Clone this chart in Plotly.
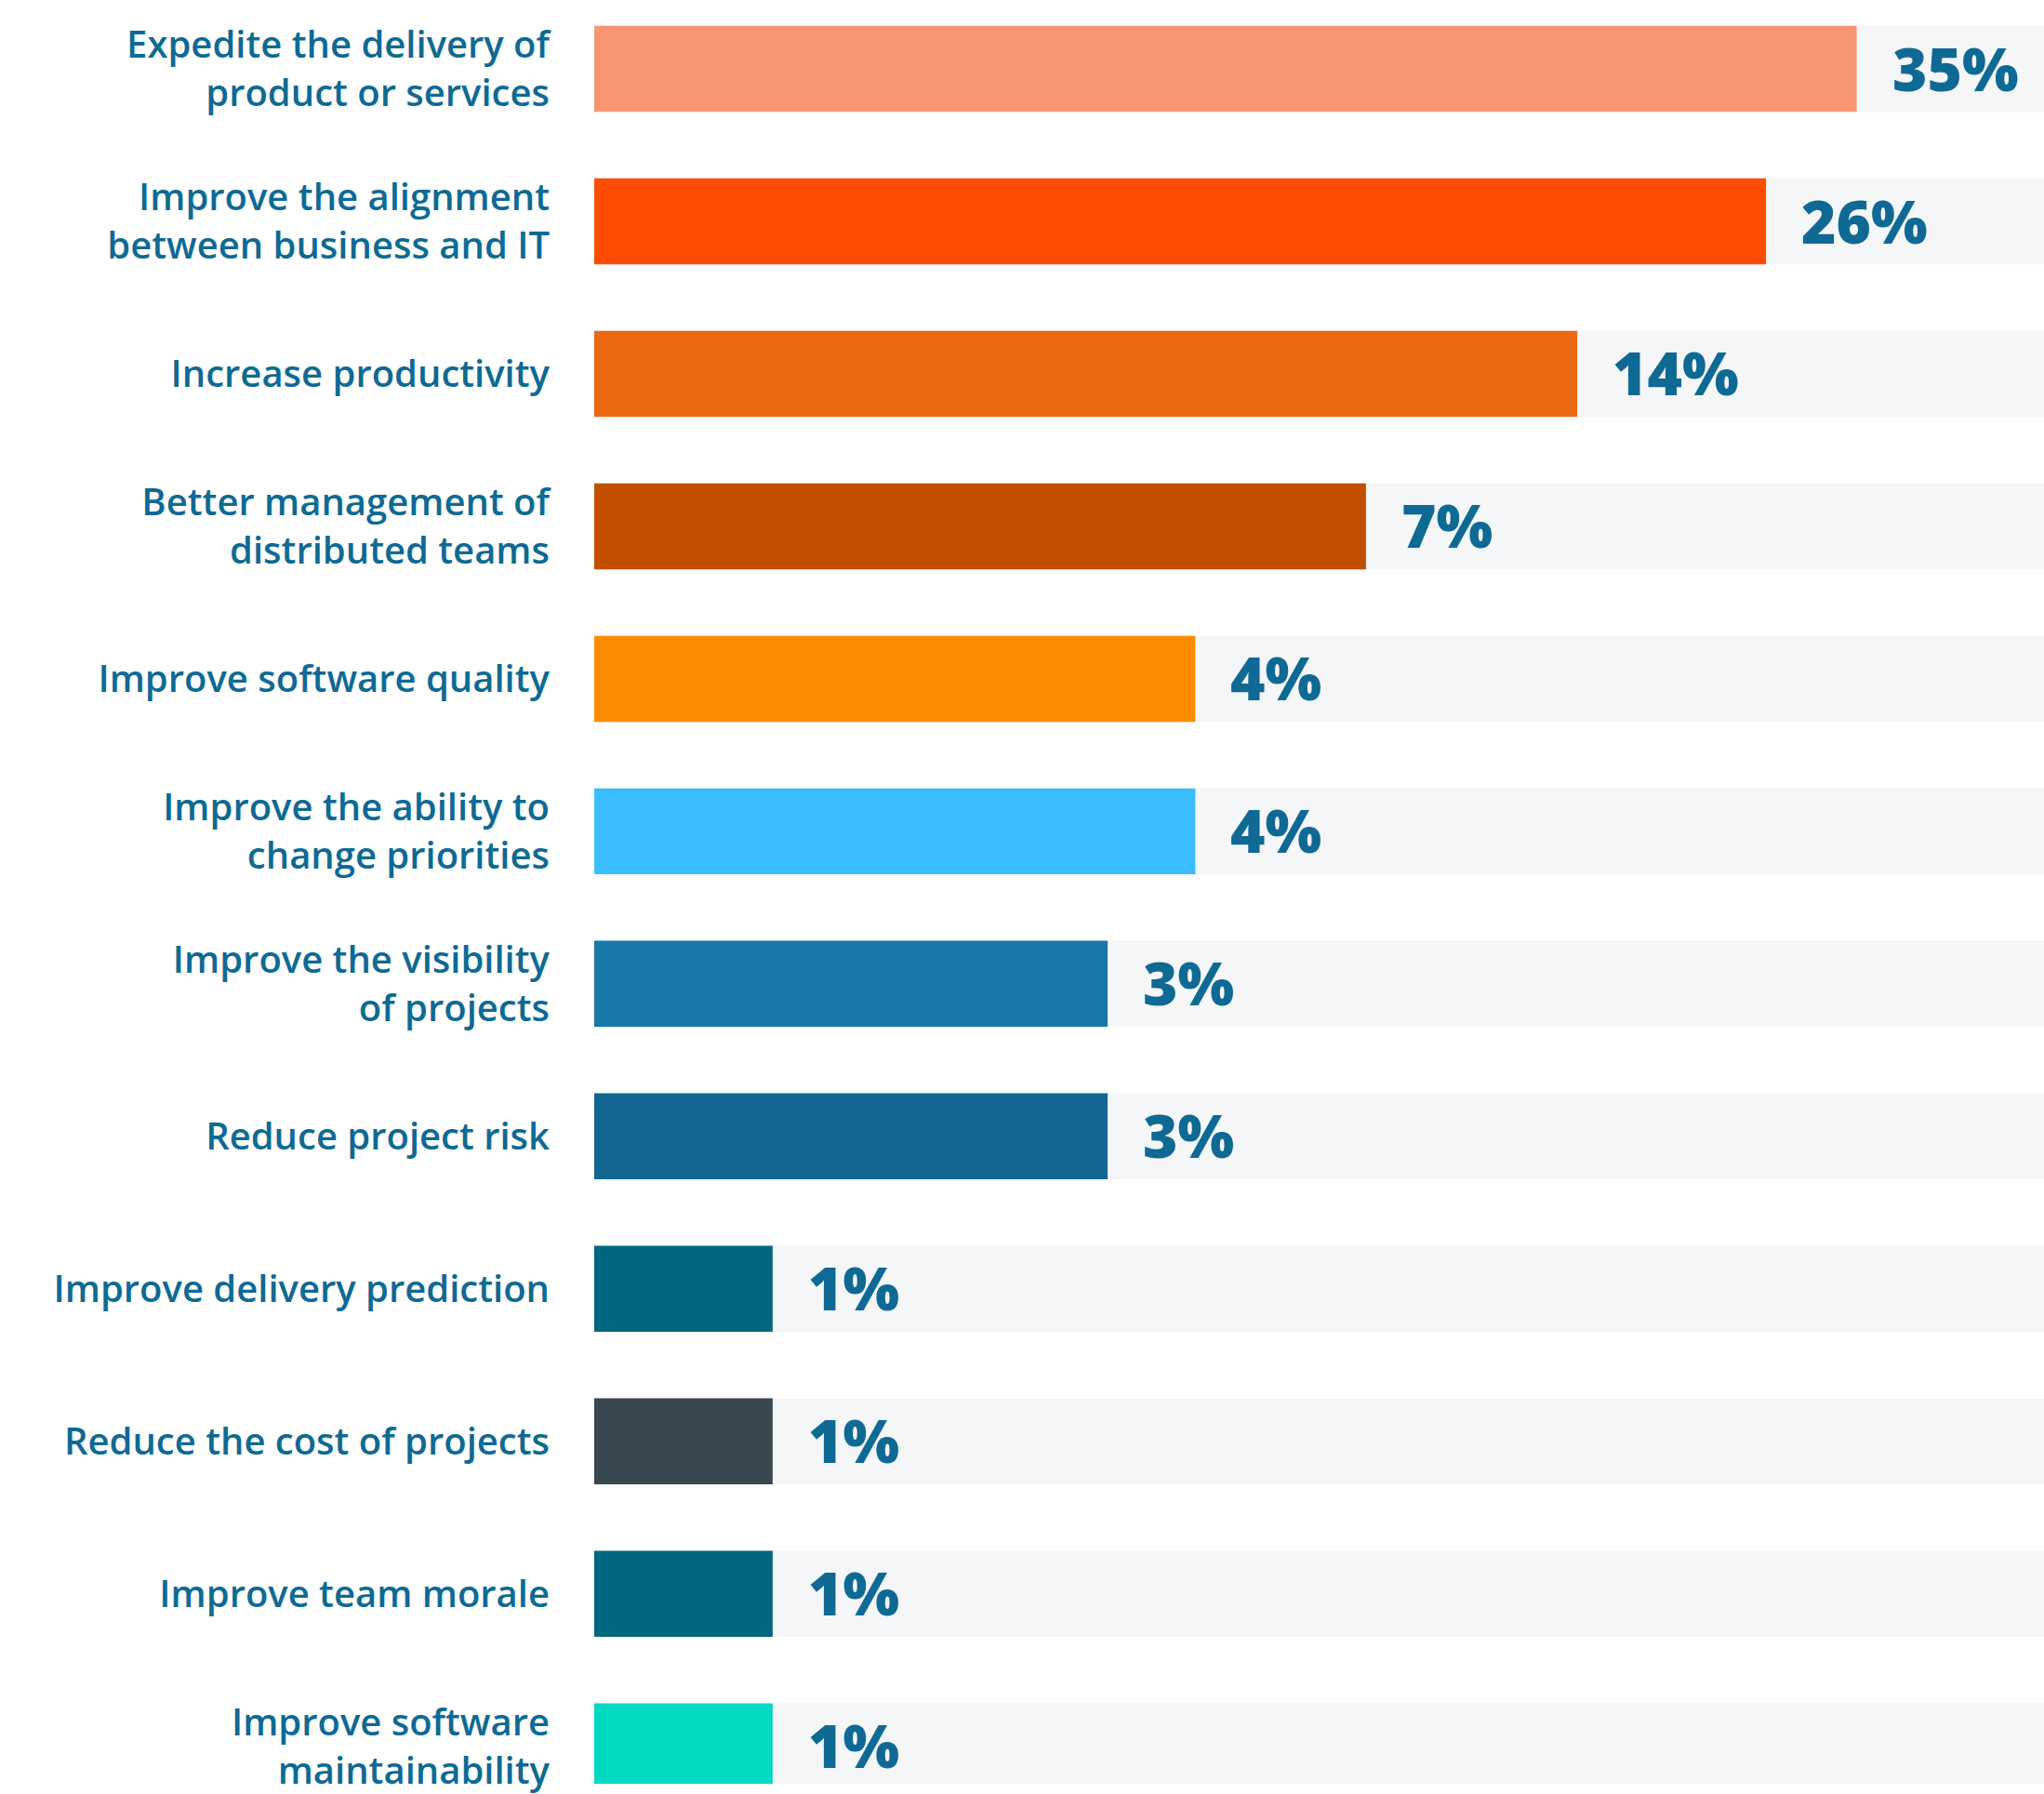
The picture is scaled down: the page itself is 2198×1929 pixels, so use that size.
import math
import plotly.graph_objects as go

# Survey responses: primary reason for adopting the practice
reasons = [
    "Expedite the delivery of<br>product or services",
    "Improve the alignment<br>between business and IT",
    "Increase productivity",
    "Better management of<br>distributed teams",
    "Improve software quality",
    "Improve the ability to<br>change priorities",
    "Improve the visibility<br>of projects",
    "Reduce project risk",
    "Improve delivery prediction",
    "Reduce the cost of projects",
    "Improve team morale",
    "Improve software<br>maintainability",
]
shares = [35, 26, 14, 7, 4, 4, 3, 3, 1, 1, 1, 1]
bar_colors = [
    "#F89673", "#FE4C00", "#EC6812", "#C24E00", "#FD8C00", "#3ABDFE",
    "#1677A8", "#136692", "#00687E", "#38464F", "#00687E", "#00DAC0",
]

TEXT_COLOR = "#0E6A94"
TRACK_COLOR = "#F4F6F8"
FONT = "Open Sans, Roboto, Arial, sans-serif"

W, H = 2198, 1929
LEFT = 639
ROW_PITCH = 164.9
FIRST_ROW_CENTER = 74.5

# log-scaled value axis so the small shares stay readable
x_lo, x_hi = math.log10(0.557), math.log10(64.7)
y_top = -FIRST_ROW_CENTER / ROW_PITCH
y_bottom = y_top + H / ROW_PITCH

fig = go.Figure()

# light full-width track behind every bar
fig.add_trace(go.Bar(
    y=reasons,
    x=[10 ** (x_hi + 1)] * len(reasons),
    orientation="h",
    marker=dict(color=TRACK_COLOR, line=dict(width=0)),
    hoverinfo="skip",
    showlegend=False,
))

fig.add_trace(go.Bar(
    y=reasons,
    x=shares,
    orientation="h",
    marker=dict(color=bar_colors, line=dict(width=0)),
    hoverinfo="skip",
    showlegend=False,
))

for reason, share in zip(reasons, shares):
    fig.add_annotation(
        x=math.log10(share), y=reason, xref="x", yref="y",
        text=f"{share}%", showarrow=False,
        xanchor="left", yanchor="middle", xshift=36, yshift=1,
        font=dict(family=FONT, size=64, color=TEXT_COLOR, weight=800),
    )

fig.update_layout(
    width=W, height=H,
    margin=dict(l=LEFT, r=0, t=0, b=0),
    paper_bgcolor="white",
    plot_bgcolor="white",
    barmode="overlay",
    bargap=0.436,
    xaxis=dict(type="log", range=[x_lo, x_hi], visible=False, fixedrange=True),
    yaxis=dict(
        type="category",
        range=[y_bottom, y_top],
        showgrid=False, zeroline=False, showline=False,
        ticks="", ticklabelstandoff=47,
        tickfont=dict(family=FONT, size=40, color=TEXT_COLOR, weight=600),
        fixedrange=True,
    ),
)

fig.write_html("out.html")
